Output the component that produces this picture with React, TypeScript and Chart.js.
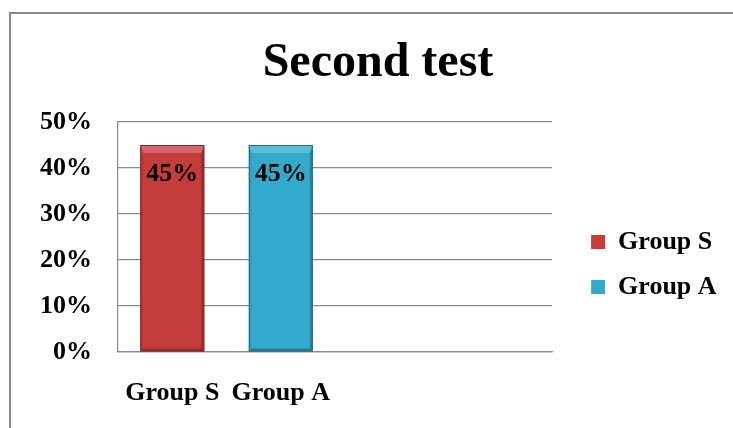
import React, { useEffect, useRef } from 'react';
import { Chart, registerables } from 'chart.js';

Chart.register(...registerables);

// ---- data ----
const categories = ['Group S', 'Group A', '', ''];
const seriesNames = ['Group S', 'Group A'];
const groupSValues: (number | null)[] = [45, null, null, null];
const groupAValues: (number | null)[] = [null, 45, null, null];
const yTickValues = [0, 10, 20, 30, 40, 50];
const titleText = 'Second test';

const FONT = '"Liberation Serif", "Times New Roman", serif';
const seriesColors = ['#C43D3B', '#33AACB'];
const seriesEdges = ['#7E2624', '#1B7089'];

function poly(ctx: CanvasRenderingContext2D, pts: number[][], fill: string) {
  ctx.beginPath();
  ctx.moveTo(pts[0][0], pts[0][1]);
  for (let i = 1; i < pts.length; i++) ctx.lineTo(pts[i][0], pts[i][1]);
  ctx.closePath();
  ctx.fillStyle = fill;
  ctx.fill();
}

const bevelPlugin = {
  id: 'bevelLabels',
  afterDatasetsDraw(chart: any) {
    const ctx: CanvasRenderingContext2D = chart.ctx;
    chart.data.datasets.forEach((ds: any, di: number) => {
      const meta = chart.getDatasetMeta(di);
      meta.data.forEach((bar: any, i: number) => {
        const v = ds.data[i];
        if (v == null) return;
        const { x, y, base, width } = bar.getProps(['x', 'y', 'base', 'width'], true);
        const l = x - width / 2;
        const r = x + width / 2;
        const t = Math.min(y, base);
        const b = Math.max(y, base);
        const d = 8;
        const s = 3;
        ctx.save();
        poly(ctx, [[l, t], [r, t], [r - s, t + d], [l + s, t + d]], 'rgba(255,255,255,0.22)');
        poly(ctx, [[l, t], [l + s, t + d], [l + s, b - s], [l, b]], 'rgba(0,0,0,0.06)');
        poly(ctx, [[r, t], [r - s, t + d], [r - s, b - s], [r, b]], 'rgba(0,0,0,0.22)');
        poly(ctx, [[l, b], [l + s, b - s], [r - s, b - s], [r, b]], 'rgba(0,0,0,0.25)');
        ctx.strokeStyle = seriesEdges[di];
        ctx.lineWidth = 1;
        ctx.strokeRect(l + 0.5, t + 0.5, width - 1, b - t - 1);
        ctx.font = `bold 26px ${FONT}`;
        ctx.fillStyle = '#000';
        ctx.textAlign = 'center';
        ctx.textBaseline = 'alphabetic';
        ctx.fillText(`${v}%`, x, t + 36);
        ctx.restore();
      });
    });
  },
};

export default function App() {
  const ref = useRef<HTMLCanvasElement | null>(null);

  useEffect(() => {
    if (!ref.current) return;
    const tickFont = { family: FONT, size: 26, weight: 'bold' as const };
    const chart = new Chart(ref.current, {
      type: 'bar',
      data: {
        labels: categories,
        datasets: [
          {
            label: seriesNames[0],
            data: groupSValues,
            backgroundColor: seriesColors[0],
            borderColor: seriesEdges[0],
            borderWidth: 0,
            categoryPercentage: 1,
            barPercentage: 0.59,
          },
          {
            label: seriesNames[1],
            data: groupAValues,
            backgroundColor: seriesColors[1],
            borderColor: seriesEdges[1],
            borderWidth: 0,
            categoryPercentage: 1,
            barPercentage: 0.59,
          },
        ],
      },
      options: {
        responsive: false,
        animation: false,
        layout: { padding: { left: 29.4, right: 6.4, top: 0, bottom: -7.2 } },
        plugins: {
          title: {
            display: true,
            text: titleText,
            color: '#000',
            font: { family: FONT, size: 48, weight: 'bold', lineHeight: 1.2 },
            padding: { top: 34.6, bottom: 29.8 },
          },
          legend: {
            position: 'right',
            align: 'start',
            maxWidth: 220,
            title: {
              display: true,
              text: '',
              font: { size: 10, lineHeight: 1 },
              padding: { top: 200, bottom: 0 },
            },
            labels: {
              boxWidth: 14,
              boxHeight: 14,
              padding: 19,
              color: '#000',
              font: tickFont,
            },
          },
          tooltip: { enabled: false },
        },
        scales: {
          x: {
            stacked: true,
            grid: { display: false, drawTicks: false },
            border: { display: true, color: '#8a8a8a', width: 1.2 },
            ticks: { padding: 26, maxRotation: 0, autoSkip: false, color: '#000', font: tickFont },
          },
          y: {
            stacked: true,
            min: 0,
            max: 50,
            afterFit: (s: any) => {
              s.width = 88.6;
            },
            afterBuildTicks: (s: any) => {
              s.ticks = yTickValues.map((v) => ({ value: v }));
            },
            ticks: {
              padding: 26,
              color: '#000',
              font: tickFont,
              callback: (v: any) => `${v}%`,
            },
            grid: { color: '#8a8a8a', lineWidth: 1.2, drawTicks: false },
            border: { display: true, color: '#8a8a8a', width: 1.2 },
          },
          y2: {
            position: 'right',
            display: true,
            afterFit: (s: any) => {
              s.width = 20;
            },
            grid: { display: false, drawTicks: false },
            ticks: { display: false },
            border: { display: false },
          },
        },
      },
      plugins: [bevelPlugin],
    } as any);
    return () => chart.destroy();
  }, []);

  return (
    <div
      style={{
        position: 'fixed',
        left: 0,
        top: 0,
        width: 733,
        height: 428,
        overflow: 'hidden',
        background: '#fff',
      }}
    >
      <div
        style={{
          position: 'absolute',
          left: 9,
          top: 12,
          width: 800,
          height: 500,
          border: '2px solid #878787',
        }}
      />
      <canvas
        ref={ref}
        width={733}
        height={428}
        style={{ position: 'absolute', left: 0, top: 0, display: 'block' }}
      />
    </div>
  );
}
